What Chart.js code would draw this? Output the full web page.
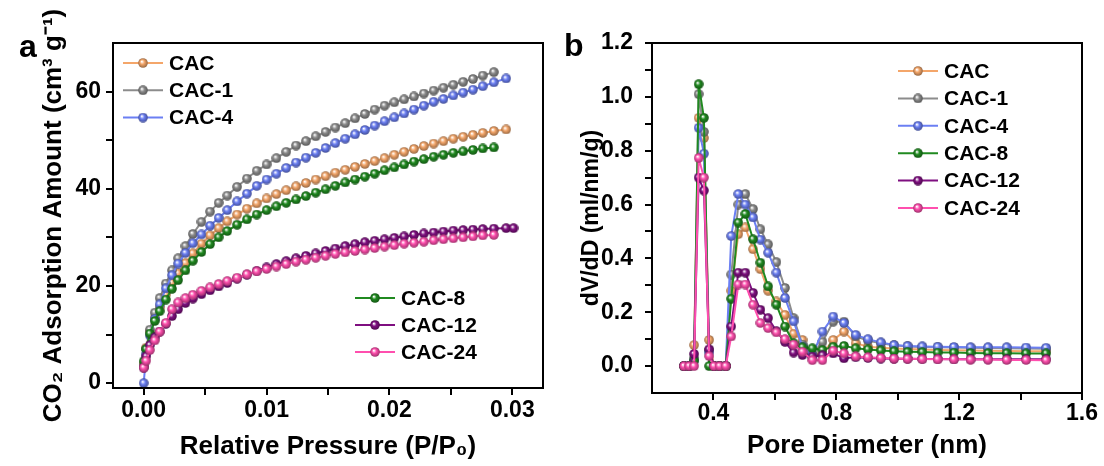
<!DOCTYPE html>
<html>
<head>
<meta charset="utf-8">
<script src="https://cdn.jsdelivr.net/npm/chart.js@4.4.0/dist/chart.umd.min.js"></script>
<style>
  body { margin: 0; background: #fff; width: 1104px; height: 466px; position: relative; overflow: hidden;
         font-family: "Liberation Sans", Arial, sans-serif; }
  .box { position: absolute; top: 0; width: 552px; height: 466px; }
  .tag { position: absolute; font-weight: bold; font-size: 32px; line-height: 32px; }
</style>
</head>
<body>
<div class="box" style="left:0"><canvas id="chartA"></canvas></div>
<div class="box" style="left:552px"><canvas id="chartB"></canvas></div>
<div class="tag" style="left:19px;top:30px">a</div>
<div class="tag" style="left:564px;top:29px">b</div>
<script>
// sample names and colours
const names = ['CAC', 'CAC-1', 'CAC-4', 'CAC-8', 'CAC-12', 'CAC-24'];
const colors = ['#f4a66a', '#8c8c8c', '#6b7ff3', '#208a20', '#7f0f80', '#ff4fae'];

// panel a : CO2 isotherms
const pressureA = [0, 0.0002, 0.0005, 0.0009, 0.0013, 0.0018, 0.0023, 0.0028, 0.0034, 0.0040,
  0.0047, 0.0054, 0.0061, 0.0068, 0.0076, 0.0084, 0.0092, 0.0100, 0.0108, 0.0116,
  0.0124, 0.0132, 0.0140, 0.0148, 0.0156, 0.0164, 0.0172, 0.0180, 0.0188, 0.0196,
  0.0204, 0.0212, 0.0220, 0.0228, 0.0236, 0.0244, 0.0252, 0.0260, 0.0268, 0.0276,
  0.0285, 0.0295, 0.0301];
const cacA = [4.0, 7.3, 10.6, 13.4, 15.6, 18.2, 20.6, 22.6, 24.7, 26.7,
  28.7, 30.4, 31.9, 33.3, 34.7, 35.9, 37.0, 38.0, 38.9, 39.7,
  40.5, 41.2, 41.9, 42.6, 43.3, 43.9, 44.5, 45.1, 45.7, 46.3,
  47.0, 47.6, 48.2, 48.8, 49.3, 49.8, 50.3, 50.7, 51.1, 51.5,
  51.9, 52.2, null];
const cac1A = [3.5, 7.0, 11.0, 14.5, 17.5, 20.5, 23.2, 25.7, 28.2, 30.7,
  33.2, 35.3, 37.1, 38.6, 40.4, 42.1, 43.7, 45.0, 46.3, 47.6,
  48.9, 49.8, 50.8, 51.7, 52.6, 53.5, 54.5, 55.4, 56.3, 57.1,
  57.8, 58.4, 59.0, 59.6, 60.2, 60.8, 61.4, 62.0, 62.6, 63.3,
  64.0, null, null];
const cac4A = [0, 6.0, 9.8, 13.2, 16.2, 19.5, 22.2, 24.6, 26.8, 28.8,
  30.6, 32.4, 34.0, 35.6, 37.4, 39.0, 40.6, 41.9, 43.1, 44.3,
  45.4, 46.4, 47.4, 48.4, 49.4, 50.3, 51.2, 52.1, 53.0, 53.9,
  54.7, 55.5, 56.3, 57.1, 57.9, 58.5, 59.2, 59.8, 60.4, 61.1,
  61.9, 62.7, null];
const cac8A = [4.5, 7.0, 10.2, 12.8, 14.8, 17.2, 19.4, 21.2, 23.2, 25.2,
  27.0, 28.6, 30.0, 31.3, 32.6, 33.7, 34.7, 35.6, 36.4, 37.1,
  37.8, 38.5, 39.2, 39.9, 40.6, 41.3, 41.9, 42.5, 43.1, 43.8,
  44.4, 45.0, 45.6, 46.1, 46.6, 47.0, 47.4, 47.7, 48.0, 48.3,
  48.5, null, null];
const cac12A = [3.2, 5.5, 7.8, 9.4, 10.6, 12.2, 13.8, 15.2, 16.5, 17.4,
  18.3, 19.1, 19.9, 20.6, 21.5, 22.3, 23.1, 23.8, 24.5, 25.1,
  25.7, 26.2, 26.7, 27.2, 27.7, 28.2, 28.6, 29.0, 29.3, 29.6,
  29.9, 30.2, 30.5, 30.8, 31.0, 31.2, 31.4, 31.5, 31.6, 31.7,
  31.8, 31.9, 31.9];
const cac24A = [3.2, 4.6, 6.8, 8.8, 10.6, 12.4, 15.2, 16.6, 17.5, 18.2,
  19.0, 19.7, 20.4, 21.0, 21.7, 22.4, 23.0, 23.5, 24.0, 24.5,
  25.0, 25.4, 25.8, 26.2, 26.6, 26.9, 27.2, 27.5, 27.8, 28.1,
  28.4, 28.7, 28.9, 29.1, 29.4, 29.6, 29.8, 30.0, 30.2, 30.4,
  30.5, null, null];

// panel b : pore size distribution
const poreB = [0.304, 0.321, 0.337, 0.352, 0.369, 0.386, 0.402, 0.420, 0.440, 0.458,
  0.481, 0.504, 0.529, 0.553, 0.578, 0.605, 0.633, 0.661, 0.690, 0.722,
  0.755, 0.790, 0.825, 0.863, 0.903, 0.945, 0.988, 1.032, 1.080, 1.130,
  1.183, 1.237, 1.294, 1.355, 1.418, 1.483];
const cacB = [0, 0, 0.078, 0.922, 0.847, 0.097, 0, 0, 0, 0.28,
  0.49, 0.515, 0.434, 0.36, 0.28, 0.24, 0.19, 0.12, 0.097, 0.04,
  0.045, 0.097, 0.128, 0.085, 0.072, 0.068, 0.065, 0.063, 0.062, 0.06,
  0.059, 0.058, 0.057, 0.056, 0.055, 0.055];
const cac1B = [0, 0, 0.03, 1.01, 0.87, 0.06, 0, 0, 0, 0.34,
  0.60, 0.639, 0.583, 0.508, 0.452, 0.386, 0.29, 0.178, 0.08, 0.045,
  0.09, 0.165, 0.165, 0.11, 0.095, 0.085, 0.077, 0.073, 0.071, 0.07,
  0.069, 0.068, 0.067, 0.066, 0.065, 0.064];
const cac4B = [0, 0, 0.02, 0.885, 0.789, 0.05, 0, 0, 0, 0.483,
  0.639, 0.60, 0.552, 0.47, 0.421, 0.347, 0.253, 0.166, 0.072, 0.04,
  0.128, 0.184, 0.16, 0.116, 0.1, 0.088, 0.078, 0.075, 0.073, 0.072,
  0.071, 0.07, 0.07, 0.07, 0.069, 0.068];
const cac8B = [0, 0, 0.02, 1.047, 0.922, 0, 0, 0, 0, 0.25,
  0.533, 0.565, 0.471, 0.384, 0.296, 0.228, 0.147, 0.085, 0.07, 0.066,
  0.06, 0.072, 0.075, 0.066, 0.062, 0.058, 0.055, 0.053, 0.052, 0.05,
  0.05, 0.049, 0.048, 0.048, 0.047, 0.047];
const cac12B = [0, 0, 0.045, 0.70, 0.652, 0.062, 0, 0, 0, 0.147,
  0.347, 0.347, 0.272, 0.209, 0.178, 0.13, 0.09, 0.05, 0.041, 0.035,
  0.04, 0.047, 0.029, 0.033, 0.03, 0.028, 0.027, 0.027, 0.026, 0.026,
  0.025, 0.025, 0.025, 0.025, 0.025, 0.025];
const cac24B = [0, 0, 0, 0.773, 0.70, 0.037, 0, 0, 0, 0.11,
  0.303, 0.303, 0.228, 0.16, 0.141, 0.125, 0.1, 0.08, 0.053, 0.022,
  0.022, 0.057, 0.047, 0.036, 0.033, 0.03, 0.028, 0.027, 0.026, 0.025,
  0.025, 0.024, 0.024, 0.023, 0.023, 0.022];

// ticks
const xTicksA = [0, 0.005, 0.01, 0.015, 0.02, 0.025, 0.03];
const xLabelsA = ['0.00', '', '0.01', '', '0.02', '', '0.03'];
const yTicksA = [0, 10, 20, 30, 40, 50, 60];
const yLabelsA = ['0', '', '20', '', '40', '', '60'];
const xTicksB = [0.4, 0.6, 0.8, 1.0, 1.2, 1.4, 1.6];
const xLabelsB = ['0.4', '', '0.8', '', '1.2', '', '1.6'];
const yTicksB = [0, 0.1, 0.2, 0.3, 0.4, 0.5, 0.6, 0.7, 0.8, 0.9, 1.0, 1.1, 1.2];
const yLabelsB = ['0.0', '', '0.2', '', '0.4', '', '0.6', '', '0.8', '', '1.0', '', '1.2'];

const FONT = '"Liberation Sans", Arial, sans-serif';
Chart.defaults.font.family = FONT;
Chart.defaults.color = '#000';

function shade(hex, f) {
  const n = parseInt(hex.slice(1), 16);
  const r = Math.round(((n >> 16) & 255) * f), g = Math.round(((n >> 8) & 255) * f), b = Math.round((n & 255) * f);
  return `rgb(${r},${g},${b})`;
}
// little shaded ball used as marker
function bead(hex) {
  const s = 10, c = document.createElement('canvas');
  c.width = c.height = s;
  const g = c.getContext('2d');
  const grad = g.createRadialGradient(3.8, 3.5, 0.3, 5, 5, 5);
  grad.addColorStop(0, '#ffffff');
  grad.addColorStop(0.4, hex);
  grad.addColorStop(1, shade(hex, 0.6));
  g.fillStyle = grad;
  g.beginPath(); g.arc(5, 5, 4.8, 0, Math.PI * 2); g.fill();
  return c;
}
const beads = colors.map(bead);

function makeSets(xs, series) {
  return series.map((vals, i) => ({
    label: names[i],
    data: xs.map((x, k) => ({x: x, y: vals[k]})),
    borderColor: colors[i],
    borderWidth: 2,
    pointStyle: beads[i],
    pointRadius: 5,
    order: 6 - i
  }));
}

// box around the plot + legend rows
const frame = {
  id: 'frame',
  afterDatasetsDraw(chart, args, opts) {
    const {ctx, chartArea: a} = chart;
    ctx.save();
    ctx.strokeStyle = '#000';
    ctx.lineWidth = 2;
    ctx.strokeRect(a.left, a.top, a.right - a.left, a.bottom - a.top);
    ctx.font = 'bold 21px ' + FONT;
    ctx.textBaseline = 'middle';
    ctx.fillStyle = '#000';
    opts.groups.forEach(g => {
      g.items.forEach((idx, k) => {
        const ds = chart.data.datasets[idx];
        const y = g.y + k * g.gap;
        ctx.strokeStyle = ds.borderColor;
        ctx.lineWidth = 2;
        ctx.beginPath(); ctx.moveTo(g.x, y); ctx.lineTo(g.x + 40, y); ctx.stroke();
        ctx.drawImage(ds.pointStyle, g.x + 15, y - 5);
        ctx.fillText(ds.label, g.x + 46, y + 1);
      });
    });
    ctx.restore();
  }
};

function scale(min, max, tickVals, tickLabels, size, title, titleSize, titlePad, tickPad, horizontal) {
  return {
    type: 'linear', min: min, max: max,
    afterBuildTicks: ax => { ax.ticks = tickVals.map(v => ({value: v})); },
    afterFit: ax => { if (horizontal) ax.height = size; else ax.width = size; },
    border: {color: '#000', width: 2},
    grid: {drawOnChartArea: false, color: '#000', lineWidth: 2, tickLength: 7},
    ticks: {callback: (v, i) => tickLabels[i], font: {size: 23, weight: 'bold'}, color: '#000',
            padding: tickPad, autoSkip: false, maxRotation: 0, minRotation: 0},
    title: {display: true, text: title, color: '#000', font: {size: titleSize, weight: 'bold'}, padding: titlePad}
  };
}

new Chart(document.getElementById('chartA'), {
  type: 'line',
  data: {datasets: makeSets(pressureA, [cacA, cac1A, cac4A, cac8A, cac12A, cac24A])},
  options: {
    responsive: true, maintainAspectRatio: false, animation: false, events: [],
    layout: {padding: {left: 0, right: 9, top: 43, bottom: 0}},
    plugins: {
      legend: {display: false}, tooltip: {enabled: false},
      frame: {groups: [{x: 123, y: 63, gap: 27.3, items: [0, 1, 2]}, {x: 355, y: 298, gap: 27, items: [3, 4, 5]}]}
    },
    scales: {
      x: scale(-0.0025, 0.0325, xTicksA, xLabelsA, 78, 'Relative Pressure (P/P₀)', 26, {top: 0, bottom: 4}, 2, true),
      y: scale(-1, 70, yTicksA, yLabelsA, 113, 'CO₂ Adsorption Amount (cm³ g⁻¹)', 26, {top: 38, bottom: 0}, 5, false)
    }
  },
  plugins: [frame]
});

new Chart(document.getElementById('chartB'), {
  type: 'line',
  data: {datasets: makeSets(poreB, [cacB, cac1B, cac4B, cac8B, cac12B, cac24B])},
  options: {
    responsive: true, maintainAspectRatio: false, animation: false, events: [],
    layout: {padding: {left: 0, right: 22, top: 43, bottom: 0}},
    plugins: {
      legend: {display: false}, tooltip: {enabled: false},
      frame: {groups: [{x: 346, y: 71, gap: 27.4, items: [0, 1, 2, 3, 4, 5]}]}
    },
    scales: {
      x: scale(0.2, 1.6, xTicksB, xLabelsB, 73, 'Pore Diameter (nm)', 26, {top: 0, bottom: 5}, 0, true),
      y: scale(-0.1, 1.2, yTicksB, yLabelsB, 100, 'dV/dD (ml/nm/g)', 23, {top: 26, bottom: 0}, 12, false)
    }
  },
  plugins: [frame]
});
</script>
</body>
</html>
